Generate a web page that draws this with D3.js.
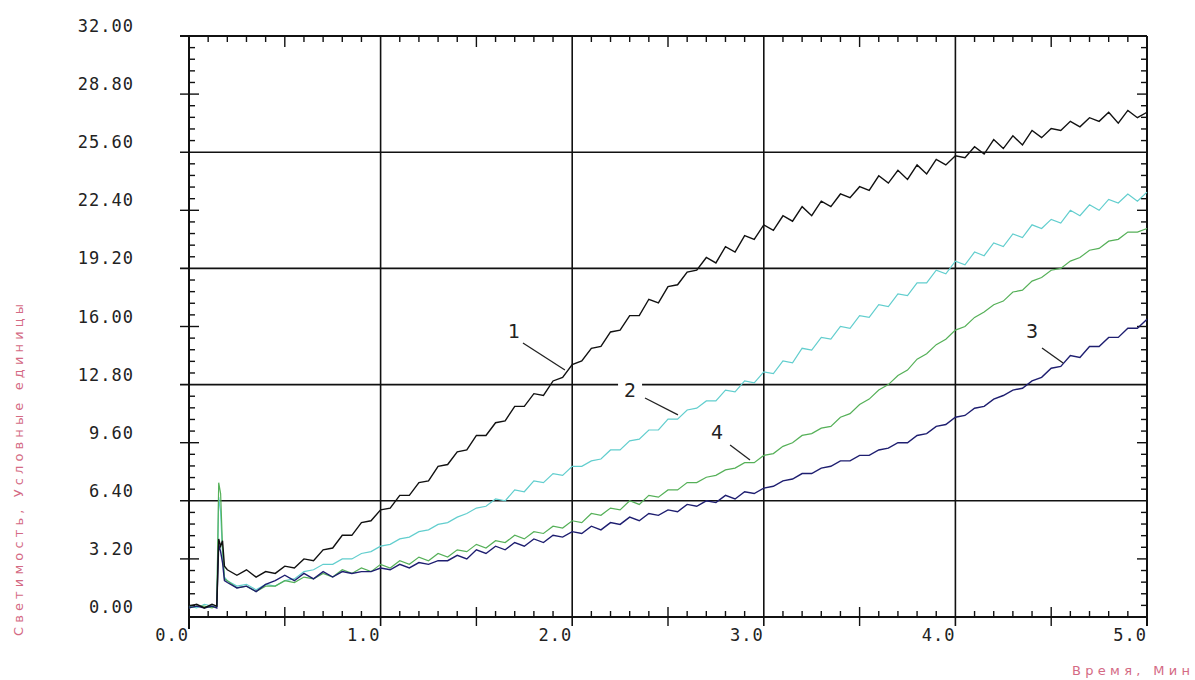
<!DOCTYPE html>
<html>
<head>
<meta charset="utf-8">
<script src="https://cdn.jsdelivr.net/npm/d3@7/dist/d3.min.js"></script>
<style>
html,body{margin:0;padding:0;background:#fff;}
svg{display:block;}
</style>
</head>
<body>
<svg id="chart" width="1195" height="680"></svg>
<script>
// ---- data ----
const time = [0,0.04,0.08,0.12,0.145,0.155,0.165,0.175,0.185,
0.2,0.25,0.3,0.35,0.4,0.45,0.5,0.55,0.6,0.65,0.7,0.75,0.8,0.85,0.9,0.95,
1.0,1.05,1.1,1.15,1.2,1.25,1.3,1.35,1.4,1.45,1.5,1.55,1.6,1.65,1.7,1.75,1.8,1.85,1.9,1.95,
2.0,2.05,2.1,2.15,2.2,2.25,2.3,2.35,2.4,2.45,2.5,2.55,2.6,2.65,2.7,2.75,2.8,2.85,2.9,2.95,
3.0,3.05,3.1,3.15,3.2,3.25,3.3,3.35,3.4,3.45,3.5,3.55,3.6,3.65,3.7,3.75,3.8,3.85,3.9,3.95,
4.0,4.05,4.1,4.15,4.2,4.25,4.3,4.35,4.4,4.45,4.5,4.55,4.6,4.65,4.7,4.75,4.8,4.85,4.9,4.95,5.0];

const curve1 = [0.6,0.7,0.5,0.7,0.6,4.3,3.9,4.2,2.8,
2.6,2.3,2.6,2.2,2.5,2.4,2.8,2.7,3.2,3.1,3.7,3.8,4.5,4.5,5.2,5.3,
5.9,6.0,6.7,6.7,7.4,7.5,8.3,8.4,9.1,9.2,10.0,10.0,10.7,10.8,11.6,11.6,12.3,12.2,13.0,13.2,
13.9,14.1,14.8,14.9,15.7,15.8,16.6,16.6,17.5,17.3,18.2,18.3,19.0,19.1,19.8,19.5,20.4,20.1,21.0,20.8,
21.6,21.3,22.1,21.8,22.6,22.1,22.9,22.6,23.3,23.1,23.7,23.5,24.3,23.9,24.6,24.1,24.9,24.4,25.2,24.9,
25.4,25.3,25.9,25.5,26.3,25.8,26.5,26.0,26.8,26.4,26.9,26.8,27.3,27.0,27.5,27.3,27.8,27.2,27.9,27.5,27.8];

const curve2 = [0.6,0.5,0.7,0.6,0.6,6.6,5.8,3.5,2.2,
2.0,1.7,1.8,1.5,1.8,1.7,2.0,2.1,2.5,2.6,2.9,2.9,3.2,3.2,3.5,3.6,
3.9,4.0,4.3,4.4,4.7,4.8,5.1,5.2,5.5,5.7,6.0,6.1,6.5,6.4,7.0,6.9,7.5,7.4,7.9,7.8,
8.3,8.3,8.6,8.7,9.2,9.2,9.7,9.8,10.3,10.3,10.9,10.9,11.4,11.5,11.9,11.9,12.5,12.4,13.0,12.9,
13.5,13.4,14.1,14.0,14.8,14.7,15.4,15.3,16.0,15.9,16.6,16.5,17.2,17.1,17.8,17.7,18.4,18.4,19.1,18.9,
19.6,19.4,20.1,19.9,20.6,20.4,21.1,20.9,21.6,21.4,21.9,21.7,22.4,22.1,22.7,22.4,23.0,22.8,23.3,22.9,23.4];

const curve3 = [0.5,0.6,0.5,0.6,0.5,4.0,3.6,3.0,2.0,
1.9,1.6,1.7,1.4,1.8,2.0,2.3,2.0,2.4,2.1,2.5,2.2,2.5,2.4,2.5,2.5,
2.7,2.6,2.9,2.7,3.0,2.9,3.1,3.1,3.4,3.2,3.7,3.5,3.9,3.7,4.1,3.9,4.3,4.1,4.5,4.4,
4.7,4.6,5.0,4.8,5.2,5.1,5.5,5.3,5.7,5.6,5.9,5.8,6.2,6.1,6.4,6.3,6.7,6.5,6.9,6.8,
7.1,7.2,7.5,7.6,7.9,7.9,8.2,8.3,8.6,8.6,8.9,8.9,9.2,9.3,9.6,9.6,10.0,10.1,10.5,10.6,
11.0,11.1,11.5,11.6,12.0,12.2,12.5,12.6,13.0,13.2,13.7,13.8,14.4,14.3,14.9,14.9,15.4,15.4,15.9,15.9,16.4];

const curve4 = [0.5,0.6,0.6,0.5,0.6,7.4,6.8,3.8,2.1,
2.0,1.6,1.7,1.4,1.7,1.7,2.0,1.9,2.2,2.1,2.4,2.2,2.6,2.4,2.7,2.5,
2.9,2.7,3.1,2.9,3.3,3.1,3.5,3.3,3.7,3.6,4.0,3.8,4.2,4.1,4.5,4.3,4.7,4.6,5.0,4.9,
5.3,5.2,5.7,5.6,6.0,5.9,6.4,6.2,6.7,6.6,7.0,7.0,7.4,7.4,7.7,7.8,8.1,8.2,8.5,8.5,
8.9,9.0,9.4,9.6,10.0,10.1,10.4,10.5,11.0,11.2,11.7,12.0,12.5,12.8,13.3,13.6,14.2,14.5,15.0,15.3,
15.8,16.0,16.5,16.8,17.2,17.4,17.9,18.0,18.5,18.7,19.1,19.2,19.6,19.8,20.2,20.3,20.7,20.8,21.2,21.2,21.4];

const xTickLabels = ["0.0","1.0","2.0","3.0","4.0","5.0"];
const yTickLabels = ["0.00","3.20","6.40","9.60","12.80","16.00","19.20","22.40","25.60","28.80","32.00"];

// curve number annotations
const annLabels = ["1","2","3","4"];
const annText = [[1.696,15.75],[2.302,12.50],[4.40,15.75],[2.756,10.19]];
const annLine = [[1.743,15.09,1.962,13.60],[2.380,12.06,2.552,11.13],[4.452,14.82,4.562,13.99],[2.824,9.47,2.928,8.65]];

const yTitle = "Светимость,  Условные  единицы";
const xTitle = "Время,  Мин";

// ---- drawing ----
const svg = d3.select("#chart");
const L = 189, R = 1147, T = 36, B = 617;
const x = d3.scaleLinear().domain([0,5]).range([L,R]);
const y = d3.scaleLinear().domain([0,32]).range([B,T]);
const ink = "#111";
const g = svg.append("g");

const hGrid = [6.4,12.8,19.2,25.6];
g.selectAll("line.hg").data(hGrid).enter().append("line")
  .attr("x1",L-9).attr("x2",R).attr("y1",d=>y(d)).attr("y2",d=>y(d))
  .attr("stroke",ink).attr("stroke-width",1.6);
const vGrid = [1,2,3,4];
g.selectAll("line.vg").data(vGrid).enter().append("line")
  .attr("x1",d=>x(d)).attr("x2",d=>x(d)).attr("y1",T).attr("y2",B+9)
  .attr("stroke",ink).attr("stroke-width",1.6);

const xMinor = d3.range(1,50).map(i=>i/10).filter(v=>Math.abs(v*2-Math.round(v*2))>1e-6);
const xMed = [0.5,1.5,2.5,3.5,4.5];
const yMinor = d3.range(1,50).map(i=>i*0.64).filter(v=>Math.abs(v/3.2-Math.round(v/3.2))>1e-6);
const yMed = [3.2,9.6,16,22.4,28.8];
const tk = g.append("g").attr("stroke",ink).attr("stroke-width",1.4);
xMinor.forEach(v=>{
  tk.append("line").attr("x1",x(v)).attr("x2",x(v)).attr("y1",B).attr("y2",B-6);
  tk.append("line").attr("x1",x(v)).attr("x2",x(v)).attr("y1",T).attr("y2",T+6);
});
xMed.forEach(v=>{
  tk.append("line").attr("x1",x(v)).attr("x2",x(v)).attr("y1",B-10).attr("y2",B+9);
  tk.append("line").attr("x1",x(v)).attr("x2",x(v)).attr("y1",T).attr("y2",T+11);
});
yMinor.forEach(v=>{
  tk.append("line").attr("x1",L).attr("x2",L+6).attr("y1",y(v)).attr("y2",y(v));
  tk.append("line").attr("x1",R).attr("x2",R-6).attr("y1",y(v)).attr("y2",y(v));
});
yMed.forEach(v=>{
  tk.append("line").attr("x1",L-9).attr("x2",L+10).attr("y1",y(v)).attr("y2",y(v));
  tk.append("line").attr("x1",R).attr("x2",R-10).attr("y1",y(v)).attr("y2",y(v));
});

g.append("line").attr("x1",L-9).attr("x2",R).attr("y1",T).attr("y2",T).attr("stroke",ink).attr("stroke-width",2);
g.append("line").attr("x1",L).attr("x2",R).attr("y1",B).attr("y2",B).attr("stroke",ink).attr("stroke-width",2);
g.append("line").attr("x1",L).attr("x2",L).attr("y1",T).attr("y2",B+12).attr("stroke",ink).attr("stroke-width",2);
g.append("line").attr("x1",R).attr("x2",R).attr("y1",T).attr("y2",B+9).attr("stroke",ink).attr("stroke-width",2);

const lblFont = "'DejaVu Sans Mono', 'Liberation Mono', monospace";
g.selectAll("text.xl").data(xTickLabels).enter().append("text")
  .attr("x",(d,i)=>x(i)).attr("y",B+24)
  .attr("text-anchor","end").attr("font-family",lblFont).attr("font-size",17)
  .attr("letter-spacing",1).attr("fill","#222").text(d=>d);
g.selectAll("text.yl").data(yTickLabels).enter().append("text")
  .attr("x",134).attr("y",(d,i)=>y(i*3.2)-4)
  .attr("text-anchor","end").attr("font-family",lblFont).attr("font-size",17)
  .attr("letter-spacing",1).attr("fill","#222").text(d=>d);

svg.append("text").attr("transform","translate(23,470) rotate(-90)")
  .attr("text-anchor","middle").attr("font-family","'DejaVu Sans', sans-serif")
  .attr("font-size",13).attr("fill","#d46a84")
  .attr("textLength",332).attr("lengthAdjust","spacing").text(yTitle);
svg.append("text").attr("x",1190).attr("y",675)
  .attr("text-anchor","end").attr("font-family","'DejaVu Sans', sans-serif")
  .attr("font-size",13).attr("fill","#d46a84")
  .attr("textLength",118).attr("lengthAdjust","spacing").text(xTitle);

const series = [
  {vals:curve2, color:"#62cece", w:1.2},
  {vals:curve4, color:"#55b058", w:1.2},
  {vals:curve3, color:"#1e1e70", w:1.4},
  {vals:curve1, color:"#111111", w:1.4}
];
const line = d3.line().x(d=>x(d[0])).y(d=>y(d[1]));
series.forEach(s=>{
  g.append("path").datum(time.map((t,i)=>[t,s.vals[i]]))
    .attr("d",line).attr("fill","none").attr("stroke",s.color)
    .attr("stroke-width",s.w).attr("stroke-linejoin","miter");
});

annLabels.forEach((lab,i)=>{
  const l = annLine[i];
  g.append("line").attr("x1",x(l[0])).attr("y1",y(l[1])).attr("x2",x(l[2])).attr("y2",y(l[3]))
    .attr("stroke","#222").attr("stroke-width",1.3);
  const tx = x(annText[i][0]), ty = y(annText[i][1]);
  g.append("rect").attr("x",tx-12).attr("y",ty-11).attr("width",24).attr("height",22).attr("fill","#fff");
  g.append("text").attr("x",tx).attr("y",ty+7).attr("text-anchor","middle")
    .attr("font-family","'DejaVu Sans', sans-serif").attr("font-size",19).attr("fill","#222").text(lab);
});
</script>
</body>
</html>
